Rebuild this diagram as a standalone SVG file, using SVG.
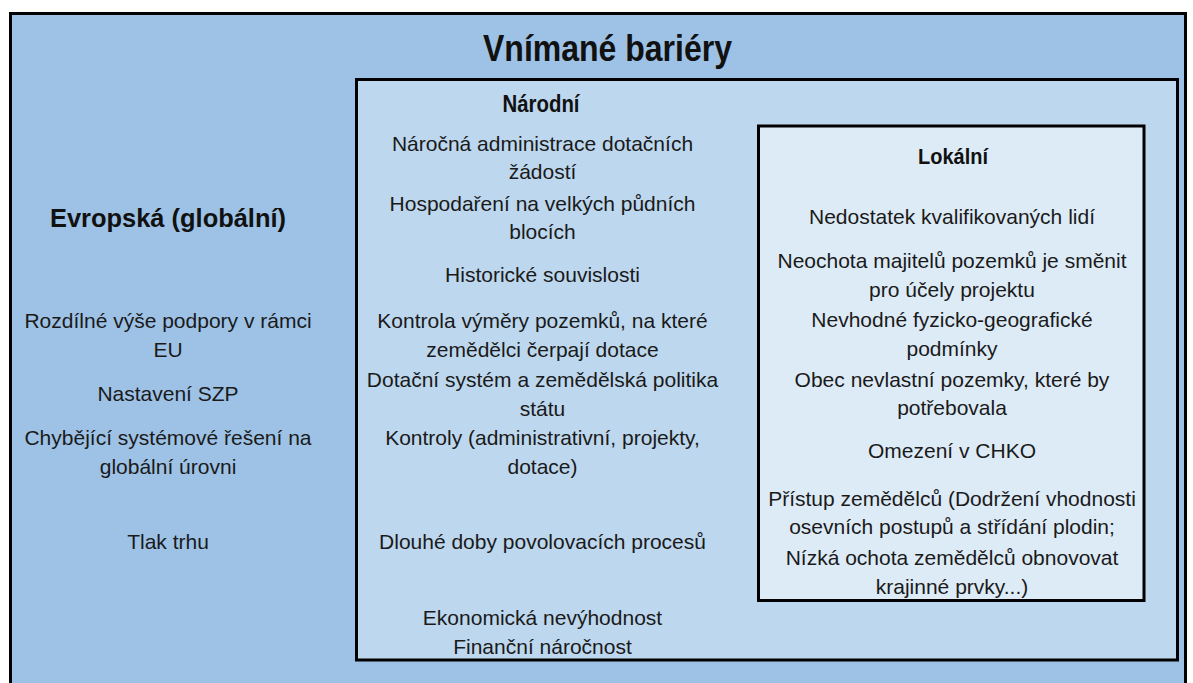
<svg xmlns="http://www.w3.org/2000/svg" width="1193" height="683" viewBox="0 0 1193 683">
<style>
.t{font-family:"Liberation Sans",Arial,sans-serif;font-size:21px;fill:#1a1a1a;text-anchor:middle}
.h{font-family:"Liberation Sans",Arial,sans-serif;font-weight:bold;fill:#111;text-anchor:middle}
.box{stroke:#000;stroke-width:3}
</style>
<rect width="1193" height="683" fill="#ffffff"/>
<g id="evropska">
<rect class="box" x="10.5" y="13.5" width="1175" height="700" fill="#9DC2E6"/>
<text class="h" x="607.5" y="60.5" font-size="37" textLength="249" lengthAdjust="spacingAndGlyphs">Vnímané bariéry</text>
<text class="h" x="168" y="227" font-size="26" textLength="236" lengthAdjust="spacingAndGlyphs">Evropská (globální)</text>
<text class="t" x="168" y="328">Rozdílné výše podpory v rámci</text>
<text class="t" x="168" y="356.5">EU</text>
<text class="t" x="168" y="401">Nastavení SZP</text>
<text class="t" x="168" y="445">Chybějící systémové řešení na</text>
<text class="t" x="168" y="474">globální úrovni</text>
<text class="t" x="168" y="549">Tlak trhu</text>
</g>
<g id="narodni">
<rect class="box" x="356.5" y="79.5" width="821" height="580.5" fill="#BDD7EE"/>
<text class="h" x="541" y="112" font-size="23" textLength="77" lengthAdjust="spacingAndGlyphs">Národní</text>
<text class="t" x="542.5" y="150.5">Náročná administrace dotačních</text>
<text class="t" x="542.5" y="179">žádostí</text>
<text class="t" x="542.5" y="210.5">Hospodaření na velkých půdních</text>
<text class="t" x="542.5" y="239">blocích</text>
<text class="t" x="542.5" y="281.5">Historické souvislosti</text>
<text class="t" x="542.5" y="328">Kontrola výměry pozemků, na které</text>
<text class="t" x="542.5" y="356.5">zemědělci čerpají dotace</text>
<text class="t" x="542.5" y="386.5">Dotační systém a zemědělská politika</text>
<text class="t" x="542.5" y="415.5">státu</text>
<text class="t" x="542.5" y="445">Kontroly (administrativní, projekty,</text>
<text class="t" x="542.5" y="474">dotace)</text>
<text class="t" x="542.5" y="549">Dlouhé doby povolovacích procesů</text>
<text class="t" x="542.5" y="625">Ekonomická nevýhodnost</text>
<text class="t" x="542.5" y="654">Finanční náročnost</text>
</g>
<g id="lokalni">
<rect class="box" x="758.5" y="126" width="385.5" height="474.5" fill="#DDEBF7"/>
<text class="h" x="953" y="164" font-size="22" textLength="70" lengthAdjust="spacingAndGlyphs">Lokální</text>
<text class="t" x="952" y="224">Nedostatek kvalifikovaných lidí</text>
<text class="t" x="952" y="268">Neochota majitelů pozemků je směnit</text>
<text class="t" x="952" y="296.5">pro účely projektu</text>
<text class="t" x="952" y="326.5">Nevhodné fyzicko-geografické</text>
<text class="t" x="952" y="356">podmínky</text>
<text class="t" x="952" y="387">Obec nevlastní pozemky, které by</text>
<text class="t" x="952" y="415">potřebovala</text>
<text class="t" x="952" y="458">Omezení v CHKO</text>
<text class="t" x="952" y="506">Přístup zemědělců (Dodržení vhodnosti</text>
<text class="t" x="952" y="533.5">osevních postupů a střídání plodin;</text>
<text class="t" x="952" y="565">Nízká ochota zemědělců obnovovat</text>
<text class="t" x="952" y="594">krajinné prvky...)</text>
</g>
<g id="connectors"/>
</svg>
